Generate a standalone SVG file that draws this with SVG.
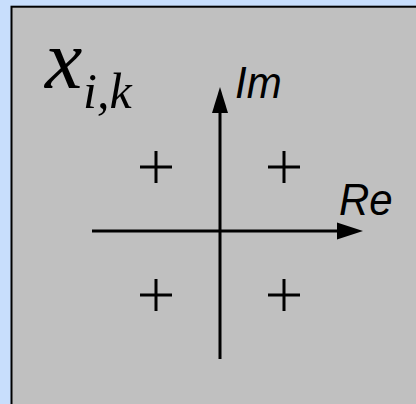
<svg xmlns="http://www.w3.org/2000/svg" width="416" height="404" viewBox="0 0 416 404">
<defs>
<style>
.ax{stroke:#000;stroke-width:3;fill:none}
.pl{stroke:#000;stroke-width:3;fill:none}
.lab{font-family:"Liberation Sans",Arial,sans-serif;font-style:italic;font-size:42px;fill:#000}
.math{font-family:"Liberation Serif","Times New Roman",serif;font-style:italic;fill:#000}
</style>
</defs>
<rect x="0" y="0" width="416" height="404" fill="#c8defc"/>
<rect id="panel" x="11.5" y="6.7" width="420" height="420" fill="#c0c0c0" stroke="#000" stroke-width="2"/>
<g id="title"><text class="math" x="45" y="88" font-size="84">x</text><text class="math" x="83" y="108" font-size="50">i,k</text></g>
<g id="connectors">
<line class="ax" x1="92" y1="231" x2="340" y2="231"/>
<polygon points="363,231 337,222.5 337,239.5" fill="#000"/>
<line class="ax" x1="220" y1="359" x2="220" y2="110"/>
<polygon points="220,87 212,113 228,113" fill="#000"/>
</g>
<g id="im"><text class="lab" transform="translate(235,98) scale(1,1.04)">Im</text></g>
<g id="re"><text class="lab" transform="translate(339,215) scale(1,1.04)">Re</text></g>
<g id="p1"><path class="pl" d="M140 167H172M156 151V183"/></g>
<g id="p2"><path class="pl" d="M268 167H300M284 151V183"/></g>
<g id="p3"><path class="pl" d="M140 295H172M156 279V311"/></g>
<g id="p4"><path class="pl" d="M268 295H300M284 279V311"/></g>
</svg>
